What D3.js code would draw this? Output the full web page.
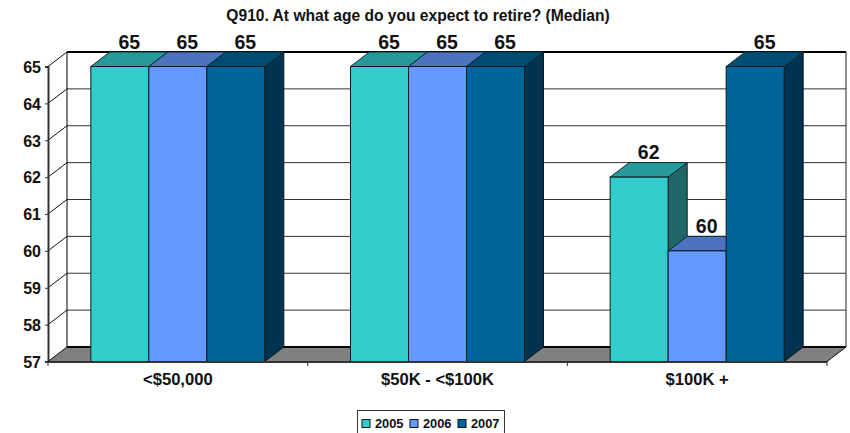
<!DOCTYPE html>
<html><head><meta charset="utf-8">
<script src="https://cdnjs.cloudflare.com/ajax/libs/d3/7.8.5/d3.min.js"></script>
<style>html,body{margin:0;background:#fff}svg{display:block}text{font-family:"Liberation Sans",Arial,sans-serif;font-weight:700;fill:#111}</style>
</head><body><svg id="c" width="850" height="433"></svg>
<script>
const title = "Q910. At what age do you expect to retire? (Median)";
const categories = ["<$50,000", "$50K - <$100K", "$100K +"];
const seriesNames = ["2005", "2006", "2007"];
const values2005 = [65, 65, 62];
const values2006 = [65, 65, 60];
const values2007 = [65, 65, 65];
const yTicks = [57, 58, 59, 60, 61, 62, 63, 64, 65];
const frontColors = ["#33cccc", "#6699ff", "#006699"];
const topColors = ["#269999", "#4d73bf", "#004d73"];
const sideColors = ["#1f6666", "#334d80", "#003350"];

const svg = d3.select("#c");
const depthX = 19, depthY = 14.5;
const x = d3.scaleBand().domain(categories).range([48, 827]);
const inner = d3.scaleBand().domain(seriesNames).range([0, x.bandwidth()]).paddingOuter(0.7385);
const y = d3.scaleLinear().domain([57, 65]).range([361.5, 66.5]);
const seriesValues = [values2005, values2006, values2007];
const poly = (pts, fill, stroke, sw) => svg.append("polygon").attr("points", pts.map(p => p.join(",")).join(" "))
  .attr("fill", fill).attr("stroke", stroke || "none").attr("stroke-width", sw || 1).attr("stroke-linejoin", "round");
const L = x.range()[0], R = x.range()[1], T = y(65), B = y(57);

// floor
poly([[L, B], [L + depthX, B - depthY], [R + depthX, B - depthY], [R, B]], "#808080");
// back wall grid and diagonals
yTicks.forEach(t => {
  const g = svg.append("g").attr("fill", "none");
  g.append("line").attr("x1", L).attr("y1", y(t)).attr("x2", L + depthX).attr("y2", y(t) - depthY).attr("stroke", "#111");
  if (t > 57 && t < 65) g.append("line").attr("x1", L + depthX).attr("y1", y(t) - depthY).attr("x2", R + depthX).attr("y2", y(t) - depthY).attr("stroke", "#333");
});
svg.append("line").attr("x1", L + depthX).attr("x2", R + depthX).attr("y1", T - depthY).attr("y2", T - depthY).attr("stroke", "#000").attr("stroke-width", 2);
svg.append("line").attr("x1", L + depthX).attr("x2", R + depthX).attr("y1", B - depthY).attr("y2", B - depthY).attr("stroke", "#000").attr("stroke-width", 2);
svg.append("line").attr("x1", L + depthX).attr("x2", L + depthX).attr("y1", T - depthY).attr("y2", B - depthY).attr("stroke", "#000");
svg.append("line").attr("x1", R + depthX).attr("x2", R + depthX).attr("y1", T - depthY).attr("y2", B - depthY).attr("stroke", "#222");
svg.append("line").attr("x1", R).attr("y1", B).attr("x2", R + depthX).attr("y2", B - depthY).attr("stroke", "#111");

// bars
categories.forEach((c, ci) => {
  seriesNames.forEach((s, si) => {
    const v = seriesValues[si][ci];
    const x0 = x(c) + inner(s), x1 = x0 + inner.bandwidth(), yt = y(v);
    poly([[x1, yt], [x1 + depthX, yt - depthY], [x1 + depthX, B - depthY], [x1, B]], sideColors[si], "#0a1a20");
    poly([[x0, yt], [x0 + depthX, yt - depthY], [x1 + depthX, yt - depthY], [x1, yt]], topColors[si], "#0a2a30");
    svg.append("rect").attr("x", x0).attr("y", yt).attr("width", x1 - x0).attr("height", B - yt)
      .attr("fill", frontColors[si]).attr("stroke", "#0a1a20");
  });
});
// value labels
categories.forEach((c, ci) => seriesNames.forEach((s, si) => {
  const v = seriesValues[si][ci];
  svg.append("text").attr("x", x(c) + inner(s) + inner.bandwidth() / 2 + depthX / 2).attr("y", y(v) - depthY - 3.5)
    .attr("text-anchor", "middle").attr("font-size", 19.5).text(v);
}));

// axes
const ay = svg.append("g").attr("transform", `translate(${L},0)`)
  .call(d3.axisLeft(y).tickValues(yTicks).tickSize(3).tickPadding(4).tickFormat(d3.format("d")));
const ax = svg.append("g").attr("transform", `translate(0,${B})`)
  .call(d3.axisBottom(x).tickSize(0).tickPadding(12));
[ay, ax].forEach(g => g.selectAll("path").attr("stroke", "#333").attr("stroke-width", 2));
ay.selectAll("line").attr("stroke", "#333").attr("stroke-width", 1);
ay.selectAll("text").attr("font-size", 16).attr("dy", "0.36em");
ax.selectAll("text").attr("font-size", 16.6).attr("dy", "0.72em");
ax.attr("font-family", null); ay.attr("font-family", null);
// category separators on the front edge
ax.selectAll(".sep").data(x.domain().concat("end")).enter().append("line").attr("class", "sep")
  .attr("x1", d => d === "end" ? R : x(d)).attr("x2", d => d === "end" ? R : x(d)).attr("y1", 0).attr("y2", 4.5)
  .attr("stroke", "#333");

// title
svg.append("text").attr("x", 418).attr("y", 21).attr("text-anchor", "middle").attr("font-size", 15.6).text(title);

// legend
const lg = svg.append("g").attr("transform", "translate(357,410)");
lg.append("rect").attr("x", 0.5).attr("y", 0.5).attr("width", 147).attr("height", 24).attr("fill", "#fff").attr("stroke", "#333");
seriesNames.forEach((s, i) => {
  const g = lg.append("g").attr("transform", `translate(${4.5 + i * 48},0)`);
  g.append("rect").attr("x", 0.5).attr("y", 9.5).attr("width", 8).attr("height", 8).attr("fill", frontColors[i]).attr("stroke", "#111");
  g.append("text").attr("x", 13.5).attr("y", 18).attr("font-size", 12.8).text(s);
});
</script></body></html>
